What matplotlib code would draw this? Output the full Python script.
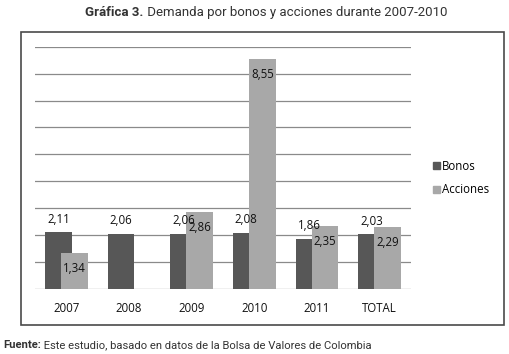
import numpy as np
import matplotlib.pyplot as plt
from matplotlib.patches import Rectangle, Patch

categorias = ['2007', '2008', '2009', '2010', '2011', 'TOTAL']
bonos = [2.11, 2.06, 2.06, 2.08, 1.86, 2.03]
acciones = [1.34, np.nan, 2.86, 8.55, 2.35, 2.29]

c_bonos = '#575757'
c_acc = '#a8a8a8'
fuente_graf = ['Open Sans', 'DejaVu Sans']
fuente_tit = ['Roboto', 'DejaVu Sans']

fig = plt.figure(figsize=(5.09, 3.54), dpi=100)
fig.patches.append(Rectangle((0.0407, 0.0819), 0.9495, 0.8269, transform=fig.transFigure,
                             fill=False, edgecolor='#4a4a4a', linewidth=1.2))

ax = fig.add_axes([0.0688, 0.1836, 0.7387, 0.6845])
x = np.arange(len(categorias))
w = 0.425
off = 0.128
ax.bar(x - off, bonos, w, color=c_bonos, zorder=2)
ax.bar(x + off, acciones, w, color=c_acc, zorder=3)

for xi, v in zip(x, bonos):
    ax.annotate(f'{v:.2f}'.replace('.', ','), (xi - off, v), xytext=(0, 9.5),
                textcoords='offset points', ha='center', va='center',
                fontsize=8.3, family=fuente_graf, color='#111111', zorder=5)
for xi, v in zip(x, acciones):
    if np.isnan(v):
        continue
    ax.annotate(f'{v:.2f}'.replace('.', ','), (xi + off, v), xytext=(0, -11),
                textcoords='offset points', ha='center', va='center',
                fontsize=8.3, family=fuente_graf, color='#111111', zorder=5)

ax.set_xlim(-0.5, len(categorias) - 0.5)
ax.set_ylim(0, 9)
ax.set_yticks(np.arange(0, 10))
ax.yaxis.grid(True, color='#8a8a8a', linewidth=0.9)
ax.set_axisbelow(True)
ax.tick_params(axis='y', left=False, labelleft=False)
ax.tick_params(axis='x', bottom=False, pad=6)
ax.set_xticks(x)
ax.set_xticklabels(categorias, fontsize=8.3, family=fuente_graf, color='#111111')
for s in ax.spines.values():
    s.set_visible(False)

handles = [Patch(color=c_bonos), Patch(color=c_acc)]
fig.legend(handles, ['Bonos', 'Acciones'], loc='center left',
           bbox_to_anchor=(0.83, 0.497), frameon=False, handlelength=0.6,
           handleheight=0.6, handletextpad=0.2, labelspacing=0.9,
           prop={'family': fuente_graf, 'size': 8.3})

# titulo: parte en negrita + resto, centrado como bloque
r = fig.canvas.get_renderer()
t1 = fig.text(0, 0.965, 'Gráfica 3.', ha='left', va='center', fontsize=9.5,
              family=fuente_tit, fontweight='bold', color='#333333')
t2 = fig.text(0, 0.965, ' Demanda por bonos y acciones durante 2007-2010', ha='left',
              va='center', fontsize=9.5, family=fuente_tit, color='#333333')
w1 = t1.get_window_extent(r).width / fig.bbox.width
w2 = t2.get_window_extent(r).width / fig.bbox.width
x0 = 0.523 - (w1 + w2) / 2
t1.set_x(x0)
t2.set_x(x0 + w1)

f1 = fig.text(0.006, 0.026, 'Fuente:', ha='left', va='center', fontsize=8.15,
              family=fuente_tit, fontweight='bold', color='#333333')
wf = f1.get_window_extent(r).width / fig.bbox.width
fig.text(0.006 + wf, 0.026, ' Este estudio, basado en datos de la Bolsa de Valores de Colombia',
         ha='left', va='center', fontsize=8.15, family=fuente_tit, color='#333333')

fig.savefig('out.png', dpi=100)
